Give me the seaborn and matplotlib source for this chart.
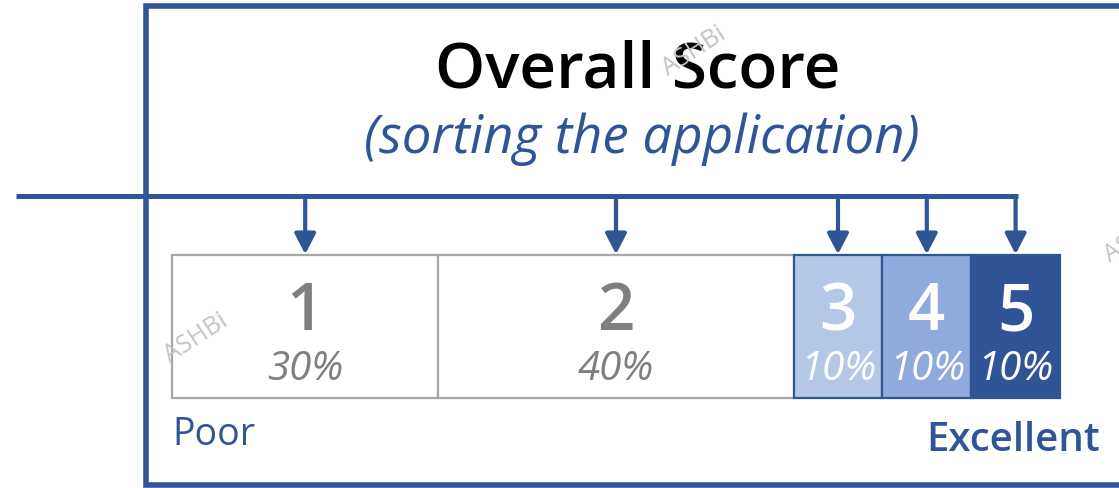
import numpy as np
import pandas as pd
import matplotlib
matplotlib.use("Agg")
import matplotlib.pyplot as plt
import seaborn as sns

# ---- data ----
scores = ["1", "2", "3", "4", "5"]
shares = [30, 40, 10, 10, 10]
share_labels = ["30%", "40%", "10%", "10%", "10%"]
title = "Overall Score"
subtitle = "(sorting the application)"
low_label = "Poor"
high_label = "Excellent"
watermark = "ASHBi"

# ---- style ----
BLUE = "#2F5597"
fills = ["white", "white", "#B4C7E7", "#8FAADC", "#2F5597"]
edges = ["#A6A6A6", "#A6A6A6", BLUE, BLUE, BLUE]
text_colors = ["#7F7F7F", "#7F7F7F", "white", "white", "white"]

sns.set_theme(style="white")
plt.rcParams['font.family'] = ['Open Sans', 'DejaVu Sans']

W, H = 1119, 489
fig = plt.figure(figsize=(W / 100, H / 100), dpi=100)

# overlay axes in pixel coordinates for frame / titles
ov = fig.add_axes([0, 0, 1, 1])
ov.set_xlim(0, W)
ov.set_ylim(H, 0)
ov.axis('off')

# bar axes
bx0, bx1, by0, by1 = 172, 1060, 256, 399
ax = fig.add_axes([bx0 / W, 1 - by1 / H, (bx1 - bx0) / W, (by1 - by0) / H])

cum = np.concatenate([[0], np.cumsum(shares)[:-1]])
for i in range(len(shares)):
    df = pd.DataFrame({"share": [shares[i]], "row": ["Overall"]})
    sns.barplot(data=df, x="share", y="row", orient="h", left=cum[i],
                width=1.0, color=fills[i], saturation=1,
                edgecolor=edges[i], linewidth=1.6, ax=ax, errorbar=None)

ax.set_xlim(0, sum(shares))
ax.set_ylim(0.5, -0.5)
ax.axis('off')
for p in ax.patches:
    p.set_clip_on(False)

line_y = -0.5 - (by0 - 197) / (by1 - by0)
for i in range(len(shares)):
    cx = cum[i] + shares[i] / 2
    ax.text(cx, 0.02, scores[i], ha='center', va='baseline', fontsize=47,
            color=text_colors[i], weight=600)
    ax.text(cx, 0.37, share_labels[i], ha='center', va='baseline', fontsize=29,
            color=text_colors[i], style='italic')
    ax.annotate("", xy=(cx, -0.505), xytext=(cx, line_y),
                arrowprops=dict(arrowstyle="-|>,head_length=0.62,head_width=0.32",
                                color=BLUE, lw=3, mutation_scale=20,
                                shrinkA=0, shrinkB=0),
                annotation_clip=False)

# horizontal connector line
ov.plot([16, 1018], [197, 197], lw=3.6, color=BLUE, solid_capstyle='butt')
# frame
ov.plot([W + 20, 146, 146, W + 20], [7, 7, 486, 486], lw=4, color=BLUE,
        solid_joinstyle='miter')

ov.text(638, 88, title, ha='center', va='baseline', fontsize=46,
        color='black', weight=600)
ov.text(642, 153, subtitle, ha='center', va='baseline', fontsize=38,
        color=BLUE, style='italic')
ov.text(172, 445, low_label, ha='left', va='baseline', fontsize=27, color=BLUE)
ov.text(1100, 451, high_label, ha='right', va='baseline', fontsize=29,
        color=BLUE, weight=600)

# watermarks (drawn on top of everything)
def px(x, y):
    return x / W, 1 - y / H

for (wx, wy) in [(196, 338), (694, 51)]:
    fig.text(*px(wx, wy), watermark, ha='center', va='center', rotation=33,
             fontsize=18, color='#C4C4C4', zorder=10)
fig.text(*px(1110, 263), watermark, ha='left', va='baseline', rotation=33,
         rotation_mode='anchor', fontsize=18, color='#C4C4C4', zorder=10)

fig.savefig("out.png", dpi=100)
